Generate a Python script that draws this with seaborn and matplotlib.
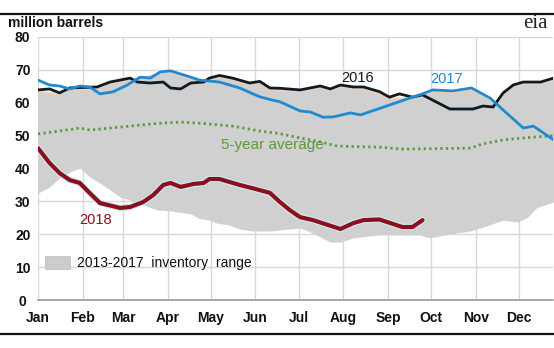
import numpy as np
import pandas as pd
import matplotlib
matplotlib.use("Agg")
import matplotlib.pyplot as plt
import matplotlib.patheffects as pe
from matplotlib.lines import Line2D
import seaborn as sns

# ---- data (x = day of year) ----
d2016 = [0, 8, 15, 22, 41, 50, 64, 69, 78, 87, 92, 99, 106, 115, 119, 126, 135, 147, 154, 161,
         168, 182, 196, 203, 210, 219, 226, 237, 244, 251, 260, 267, 286, 302, 309, 316, 323,
         330, 337, 349, 358]
v2016 = [63.9, 64.2, 63.0, 64.5, 64.8, 66.3, 67.5, 66.3, 66.0, 66.3, 64.5, 64.2, 66.0, 66.3,
         67.5, 68.3, 67.5, 66.0, 66.5, 64.5, 64.4, 63.9, 65.1, 64.2, 65.4, 64.8, 64.8, 63.4,
         61.7, 62.7, 61.7, 62.4, 58.1, 58.1, 59.0, 58.7, 63.0, 65.4, 66.3, 66.3, 67.5]

d2017 = [0, 8, 15, 22, 29, 36, 43, 52, 62, 71, 78, 85, 92, 106, 112, 126, 140, 154, 161, 168,
         182, 189, 198, 205, 217, 224, 242, 260, 267, 274, 288, 301, 314, 323, 337, 344, 358]
v2017 = [66.9, 65.4, 65.1, 64.2, 65.1, 64.8, 62.7, 63.3, 65.4, 67.8, 67.5, 69.4, 69.7, 67.8,
         66.9, 66.3, 64.5, 61.8, 61.0, 60.3, 57.5, 57.2, 55.6, 55.7, 56.9, 56.3, 59.0, 61.7,
         62.7, 63.9, 63.6, 64.5, 61.4, 57.8, 52.3, 52.9, 48.7]

d2018 = [0, 8, 15, 22, 29, 36, 43, 57, 64, 73, 80, 87, 92, 99, 108, 115, 119, 126, 140, 149,
         161, 168, 175, 182, 191, 210, 219, 226, 237, 253, 260, 267]
v2018 = [46.2, 41.7, 38.6, 36.5, 35.6, 32.5, 29.5, 28.0, 28.3, 29.8, 31.9, 35.0, 35.6, 34.4,
         35.3, 35.6, 36.8, 36.8, 35.0, 34.0, 32.6, 29.8, 27.3, 25.2, 24.3, 21.6, 23.4, 24.3,
         24.5, 22.2, 22.2, 24.3]

davg = [0, 29, 36, 57, 85, 99, 112, 135, 154, 168, 182, 196, 208, 237, 253, 300, 309, 323,
        337, 355, 358]
vavg = [50.5, 52.3, 51.7, 52.6, 53.8, 54.1, 53.8, 52.9, 51.4, 50.6, 49.3, 48.1, 46.8, 46.5,
        45.9, 46.2, 47.5, 48.7, 49.3, 49.9, 50.0]

dlow = [0, 8, 15, 22, 29, 36, 43, 50, 57, 64, 71, 83, 92, 106, 112, 119, 124, 133, 140, 149,
        163, 168, 182, 189, 203, 210, 219, 237, 265, 272, 286, 300, 307, 323, 333, 340, 346, 358]
vlow = [32.5, 34.4, 37.1, 38.9, 40.2, 37.4, 35.6, 33.5, 31.3, 30.4, 29.2, 27.4, 27.1, 26.2,
        24.8, 24.3, 23.4, 22.8, 21.6, 21.0, 21.0, 21.3, 21.9, 20.7, 17.6, 17.6, 18.9, 19.8,
        19.8, 18.9, 20.1, 21.0, 21.9, 24.3, 23.7, 25.2, 28.0, 29.8]

dhigh = [0, 15, 22, 41, 50, 64, 71, 85, 92, 106, 115, 126, 135, 147, 154, 161, 182, 196, 203,
         210, 226, 237, 244, 260, 274, 288, 301, 314, 319, 323, 330, 337, 349, 358]
vhigh = [63.8, 63.0, 64.3, 64.8, 66.3, 67.5, 67.8, 69.4, 69.7, 67.8, 66.9, 68.1, 67.5, 66.0,
         66.5, 64.5, 63.9, 65.1, 64.2, 65.4, 64.8, 63.0, 61.7, 61.7, 63.9, 63.6, 64.5, 61.4,
         60.0, 63.0, 65.4, 66.3, 66.3, 67.5]

month_days = [0, 31, 59, 90, 120, 151, 181, 212, 243, 273, 304, 334]
month_labels = ["Jan", "Feb", "Mar", "Apr", "May", "Jun", "Jul", "Aug", "Sep", "Oct", "Nov", "Dec"]
yticks = [0, 10, 20, 30, 40, 50, 60, 70, 80]

# ---- style ----
sns.set_style("white")
plt.rcParams["font.family"] = ["Liberation Sans", "DejaVu Sans"]

fig = plt.figure(figsize=(5.54, 3.48), dpi=100)
ax = fig.add_axes([38 / 554, 48 / 348, 515 / 554, 263 / 348])

# range band
grid = np.arange(0, 359)
lo = np.interp(grid, dlow, vlow)
hi = np.interp(grid, dhigh, vhigh)
ax.fill_between(grid, lo, hi, color="#d0d0d0", lw=0, zorder=1)
ax.plot(dhigh, vhigh, color="#f3cfb5", lw=1.3, zorder=2,
        path_effects=[pe.SimpleLineShadow(offset=(0, -1.2), shadow_color="#f3cfb5", alpha=1, rho=1)])

df16 = pd.DataFrame({"day": d2016, "val": v2016})
df17 = pd.DataFrame({"day": d2017, "val": v2017})
df18 = pd.DataFrame({"day": d2018, "val": v2018})
dfa = pd.DataFrame({"day": davg, "val": vavg})

sns.lineplot(data=dfa, x="day", y="val", ax=ax, color="#5a9a3c", lw=2.0,
             linestyle=(0, (0.8, 1.2)), zorder=3)
sns.lineplot(data=df16, x="day", y="val", ax=ax, color="#0f1a24", lw=2.0, zorder=4)
sns.lineplot(data=df17, x="day", y="val", ax=ax, color="#1e8ad2", lw=2.0, zorder=5)
sns.lineplot(data=df18, x="day", y="val", ax=ax, color="#8c0f1e", lw=3.0, zorder=6,
             path_effects=[pe.Stroke(linewidth=4.6, foreground="#cdeef0"), pe.Normal()])

ax.set_xlim(0, 357.6)
ax.set_ylim(0, 80)
ax.set_xticks(month_days)
ax.set_xticklabels(month_labels)
ax.set_yticks(yticks)
ax.set_yticklabels([str(t) for t in yticks])
ax.set_xlabel("")
ax.set_ylabel("")
ax.grid(True, color="#d8d8d8", lw=1.0, zorder=0)
ax.set_axisbelow(True)
for s in ["top", "right", "left"]:
    ax.spines[s].set_visible(False)
ax.spines["bottom"].set_color("#9a9a9a")
ax.spines["bottom"].set_linewidth(1.2)
ax.tick_params(axis="x", direction="out", length=4, width=1, color="#9a9a9a",
               labelsize=10, pad=4, labelcolor="#111111")
ax.tick_params(axis="y", length=0, labelsize=10, pad=11, labelcolor="#111111")
for lab in ax.get_xticklabels() + ax.get_yticklabels():
    lab.set_fontweight("bold")
for lab in ax.get_yticklabels():
    lab.set_horizontalalignment("center")

# series labels
ax.text(222, 67.4, "2016", color="#0f1a24", fontsize=10.5, ha="center", va="center")
ax.text(284, 67.2, "2017", color="#1e8ad2", fontsize=10.5, ha="center", va="center")
ax.text(163, 47.0, "5-year average", color="#5a9a3c", fontsize=11, ha="center", va="center")
ax.text(40, 24.3, "2018", color="#8c0f1e", fontsize=10.5, ha="center", va="center")

# legend
ax.fill_between([5, 22], [9.3, 9.3], [13.3, 13.3], color="#cccccc", ec="#bbbbbb", lw=0.5, zorder=2)
ax.text(27, 11.3, "2013-2017  inventory  range", fontsize=10, va="center", ha="left",
        color="#111111")

# header
fig.text(8 / 554, 1 - 23 / 348, "million barrels", fontsize=10, va="center", ha="left",
         color="#111111", fontweight="bold")
fig.text(548 / 554, 1 - 24 / 348, "eia", fontsize=15, va="center", ha="right",
         family=["Liberation Serif", "DejaVu Serif"], color="#222222")

# frame lines
fig.add_artist(Line2D([0, 1], [1 - 13.5 / 348, 1 - 13.5 / 348], color="#111111", lw=1.6))
fig.add_artist(Line2D([0, 1], [1 - 334 / 348, 1 - 334 / 348], color="#111111", lw=1.6))

fig.savefig("out.png", dpi=100)
